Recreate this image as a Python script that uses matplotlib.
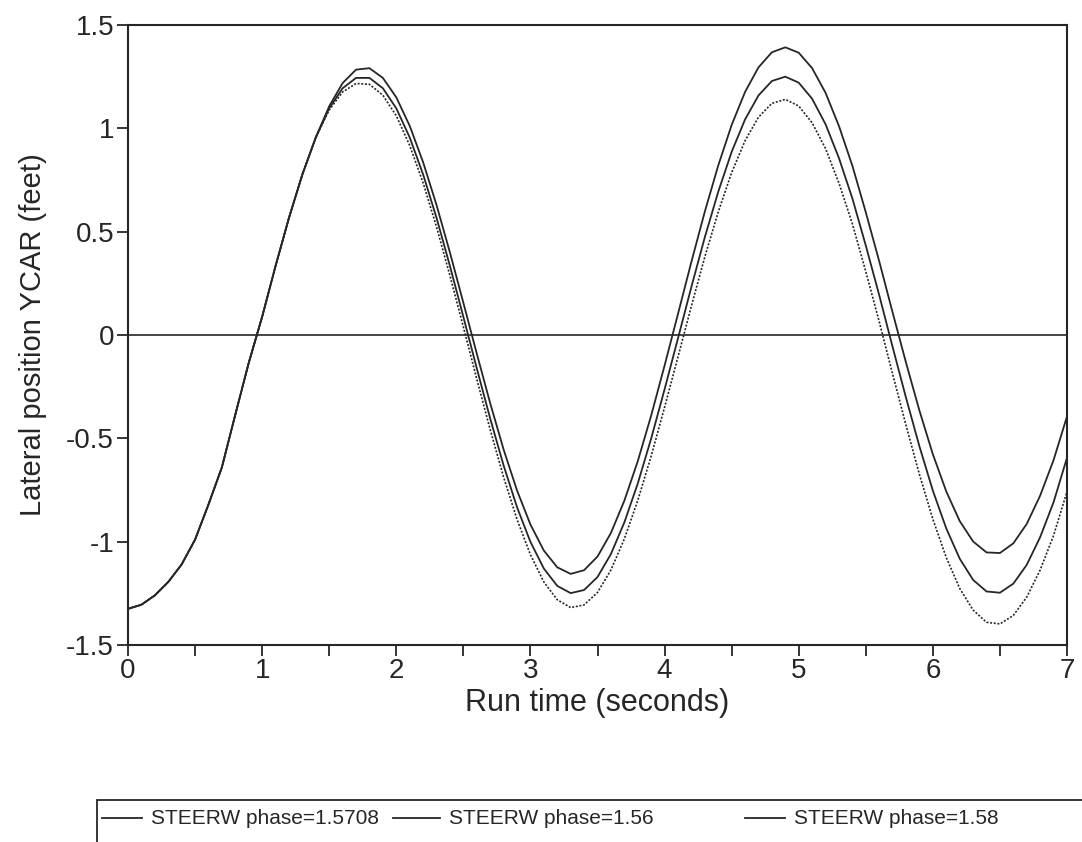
import matplotlib
matplotlib.use("Agg")
import matplotlib.pyplot as plt
from matplotlib.lines import Line2D
from matplotlib.patches import Rectangle
from matplotlib.ticker import MultipleLocator, FormatStrFormatter

plt.rcParams['font.family'] = ['Liberation Sans', 'DejaVu Sans']
plt.rcParams['axes.unicode_minus'] = False

# run time (seconds), every 0.1 s
run_time = [round(i * 0.1, 1) for i in range(71)]

# lateral position YCAR (feet)
ycar_15708 = [
    -1.325, -1.305, -1.260, -1.195, -1.110, -0.990, -0.820, -0.640, -0.385, -0.135,
    0.088, 0.334, 0.567, 0.777, 0.956, 1.097, 1.194, 1.244, 1.244, 1.194,
    1.097, 0.956, 0.777, 0.567, 0.334, 0.088, -0.161, -0.404, -0.631, -0.833,
    -1.001, -1.130, -1.214, -1.249, -1.234, -1.171, -1.060, -0.907, -0.719, -0.501,
    -0.263, -0.016, 0.233, 0.473, 0.693, 0.886, 1.043, 1.159, 1.229, 1.250,
    1.221, 1.143, 1.020, 0.856, 0.661, 0.433, 0.193, -0.058, -0.304, -0.539,
    -0.753, -0.936, -1.082, -1.185, -1.241, -1.247, -1.203, -1.112, -0.978, -0.809,
    -0.594,
]
ycar_156 = [
    -1.325, -1.305, -1.260, -1.195, -1.110, -0.990, -0.820, -0.640, -0.385, -0.135,
    0.088, 0.334, 0.567, 0.777, 0.956, 1.107, 1.219, 1.284, 1.291, 1.244,
    1.150, 1.012, 0.836, 0.629, 0.399, 0.156, -0.090, -0.330, -0.554, -0.752,
    -0.917, -1.043, -1.124, -1.156, -1.138, -1.072, -0.958, -0.802, -0.611, -0.390,
    -0.148, 0.102, 0.354, 0.597, 0.820, 1.016, 1.176, 1.295, 1.368, 1.392,
    1.366, 1.291, 1.172, 1.011, 0.819, 0.594, 0.357, 0.109, -0.134, -0.366,
    -0.577, -0.757, -0.900, -0.999, -1.052, -1.055, -1.008, -0.914, -0.777, -0.605,
    -0.394,
]
ycar_158 = [
    -1.325, -1.305, -1.260, -1.195, -1.110, -0.990, -0.820, -0.640, -0.385, -0.135,
    0.088, 0.334, 0.567, 0.777, 0.956, 1.089, 1.176, 1.217, 1.213, 1.160,
    1.061, 0.917, 0.736, 0.523, 0.287, 0.039, -0.213, -0.458, -0.688, -0.892,
    -1.063, -1.195, -1.281, -1.319, -1.306, -1.246, -1.137, -0.987, -0.801, -0.586,
    -0.350, -0.106, 0.140, 0.378, 0.595, 0.786, 0.940, 1.054, 1.121, 1.140,
    1.108, 1.027, 0.902, 0.735, 0.538, 0.307, 0.065, -0.189, -0.437, -0.675,
    -0.891, -1.077, -1.226, -1.331, -1.390, -1.398, -1.357, -1.268, -1.137, -0.970,
    -0.758,
]
legend_labels = ['STEERW phase=1.5708', 'STEERW phase=1.56', 'STEERW phase=1.58']

ink = '#262626'
W, H = 1082, 842

fig = plt.figure(figsize=(W / 100, H / 100), dpi=100)
ax = fig.add_axes([128 / W, 1 - 645 / H, (1067 - 128) / W, (645 - 25) / H])

ax.plot(run_time, ycar_15708, color=ink, lw=1.3)
ax.plot(run_time, ycar_156, color=ink, lw=1.3)
ax.plot(run_time, ycar_158, color=ink, lw=1.2, linestyle=(0, (1.2, 1.0)))
ax.axhline(0, color=ink, lw=1.2)

ax.set_xlim(0, 7)
ax.set_ylim(-1.5, 1.5)
ax.xaxis.set_major_locator(MultipleLocator(1))
ax.xaxis.set_minor_locator(MultipleLocator(0.5))
ax.yaxis.set_major_locator(MultipleLocator(0.5))
ax.yaxis.set_major_formatter(FormatStrFormatter('%g'))
ax.tick_params(axis='both', which='both', direction='out', length=8, width=1.3,
               color=ink, labelsize=20, labelcolor=ink)
ax.tick_params(axis='x', pad=1)
ax.tick_params(axis='y', pad=2)
for sp in ax.spines.values():
    sp.set_color(ink)
    sp.set_linewidth(1.5)

ax.set_xlabel('Run time (seconds)', fontsize=22, color=ink, labelpad=3)
ax.set_ylabel('Lateral position YCAR (feet)', fontsize=21, color=ink, labelpad=14)

# legend box along the bottom, running off the right and bottom edges
fig.add_artist(Rectangle((97 / W, -0.05), 1.0, 1 - 800 / H + 0.05,
                         transform=fig.transFigure, fill=False, edgecolor=ink, lw=1.3))
legend_y = 1 - 818 / H
sample_x = [(102, 142), (393, 440), (745, 785)]
for (x0, x1), lab in zip(sample_x, legend_labels):
    fig.add_artist(Line2D([x0 / W, x1 / W], [legend_y, legend_y],
                          transform=fig.transFigure, color=ink, lw=1.3))
    fig.text((x1 + 9) / W, legend_y, lab, fontsize=15, color=ink,
             ha='left', va='center')

fig.savefig('out.png', dpi=100)
